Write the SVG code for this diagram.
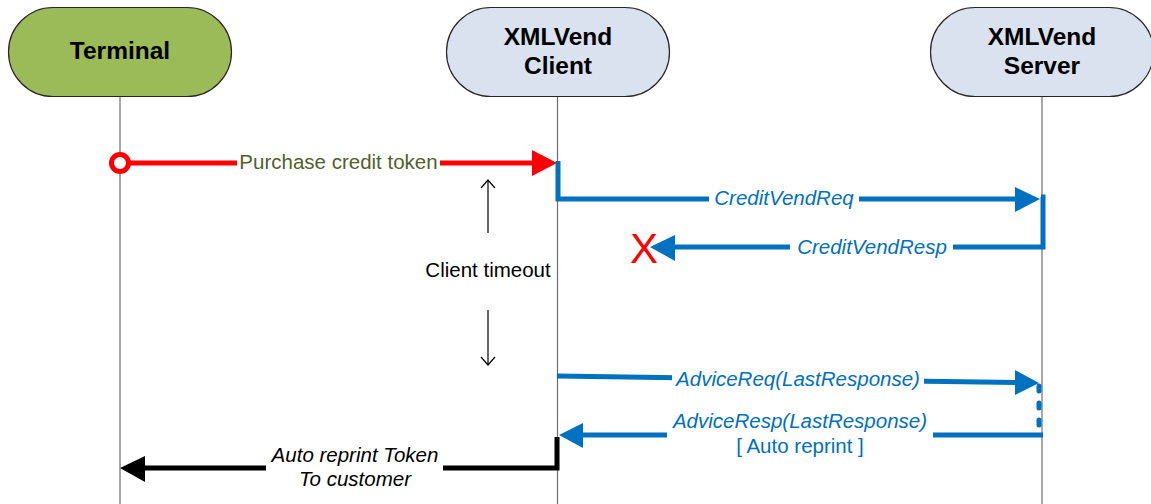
<svg xmlns="http://www.w3.org/2000/svg" width="1151" height="504" viewBox="0 0 1151 504">
  <defs>
    <style>
      .node { stroke: #262626; stroke-width: 1.2; }
      .title { font-family: "Liberation Sans", Arial, sans-serif; font-size: 24.5px; font-weight: bold; fill: #000; text-anchor: middle; }
      .life { stroke: #6e6e6e; stroke-width: 1.2; fill: none; }
      .lbl { font-family: "Liberation Sans", Arial, sans-serif; font-size: 20.5px; text-anchor: middle; }
      .blue { stroke: #0070c0; stroke-width: 5; fill: none; }
      .red { stroke: #ff0000; stroke-width: 5; fill: none; }
      .black { stroke: #000; stroke-width: 5; fill: none; }
      .bl { fill: #0070c0; font-style: italic; }
      .bg { fill: #fff; }
    </style>
  </defs>

  <rect width="1151" height="504" fill="#fff"/>

  <!-- lifelines -->
  <g id="lifelines">
    <line class="life" x1="120" y1="97" x2="120" y2="504"/>
    <line class="life" x1="557.5" y1="97" x2="557.5" y2="504"/>
    <line class="life" x1="1042" y1="97" x2="1042" y2="504"/>
  </g>

  <!-- participants -->
  <g id="terminal">
    <rect class="node" x="8.5" y="7.5" width="223" height="89" rx="44.5" fill="#9bbb59"/>
    <text class="title" x="120" y="59">Terminal</text>
  </g>
  <g id="client">
    <rect class="node" x="446.5" y="7.5" width="223" height="89" rx="44.5" fill="#d9e2ee"/>
    <text class="title" x="558" y="45">XMLVend</text>
    <text class="title" x="558" y="74">Client</text>
  </g>
  <g id="server">
    <rect class="node" x="930.5" y="7.5" width="223" height="89" rx="44.5" fill="#d9e2ee"/>
    <text class="title" x="1042" y="45">XMLVend</text>
    <text class="title" x="1042" y="74">Server</text>
  </g>

  <!-- messages -->
  <g id="connectors">
    <!-- purchase request -->
    <line class="red" x1="128" y1="163" x2="534" y2="163"/>
    <circle cx="120" cy="163" r="8.5" fill="#fff" stroke="#ff0000" stroke-width="5"/>
    <polygon points="557,163 532,150 532,176" fill="#ff0000"/>
    <rect class="bg" x="237" y="150" width="203" height="24"/>
    <text class="lbl" x="338.5" y="169" fill="#4f6228">Purchase credit token</text>

    <!-- CreditVendReq -->
    <polyline class="blue" points="558,161 558,199 1018,199"/>
    <polygon points="1040,199 1015,187 1015,212" fill="#0070c0"/>
    <rect class="bg" x="709" y="187" width="150" height="24"/>
    <text class="lbl bl" x="784" y="205">CreditVendReq</text>

    <!-- CreditVendResp (lost) -->
    <polyline class="blue" points="1041,197 1043,197 1043,247 672,247"/>
    <polygon points="650,247 675,235 675,261" fill="#0070c0"/>
    <rect class="bg" x="790" y="235" width="163" height="24"/>
    <text class="lbl bl" x="872" y="254">CreditVendResp</text>
    <text x="644" y="263" font-family="'Liberation Sans', Arial, sans-serif" font-size="42px" fill="#ff0000" text-anchor="middle">X</text>

    <!-- client timeout -->
    <g stroke="#000" stroke-width="1.2" fill="none">
      <line x1="488" y1="181" x2="488" y2="233"/>
      <polyline points="481,188 488,180 495,188"/>
      <line x1="488" y1="310" x2="488" y2="364"/>
      <polyline points="481,357 488,365 495,357"/>
    </g>
    <text class="lbl" x="488" y="277" fill="#000">Client timeout</text>

    <!-- AdviceReq -->
    <line class="blue" x1="557" y1="376" x2="1017" y2="382.5"/>
    <polygon points="1039,383 1015,370 1015,395" fill="#0070c0"/>
    <rect class="bg" x="672" y="367" width="252" height="24"/>
    <text class="lbl bl" x="798" y="386">AdviceReq(LastResponse)</text>
    <line x1="1039" y1="386" x2="1039" y2="432" stroke="#0070c0" stroke-width="5" stroke-linecap="round" stroke-dasharray="5 12"/>

    <!-- AdviceResp -->
    <line class="blue" x1="1043" y1="435" x2="580" y2="435"/>
    <polygon points="559,435 583,423 583,448" fill="#0070c0"/>
    <rect class="bg" x="667" y="410" width="266" height="48"/>
    <text class="lbl bl" x="800" y="428">AdviceResp(LastResponse)</text>
    <text class="lbl" x="800" y="453" fill="#0070c0">[ Auto reprint ]</text>

    <!-- reprint to terminal -->
    <polyline class="black" points="557,437 557,468 142,468"/>
    <polygon points="120,468 145,456 145,482" fill="#000"/>
    <rect class="bg" x="266" y="443" width="177" height="48"/>
    <text class="lbl" x="355" y="462" font-style="italic" fill="#000">Auto reprint Token</text>
    <text class="lbl" x="355" y="486" font-style="italic" fill="#000">To customer</text>
  </g>
</svg>
